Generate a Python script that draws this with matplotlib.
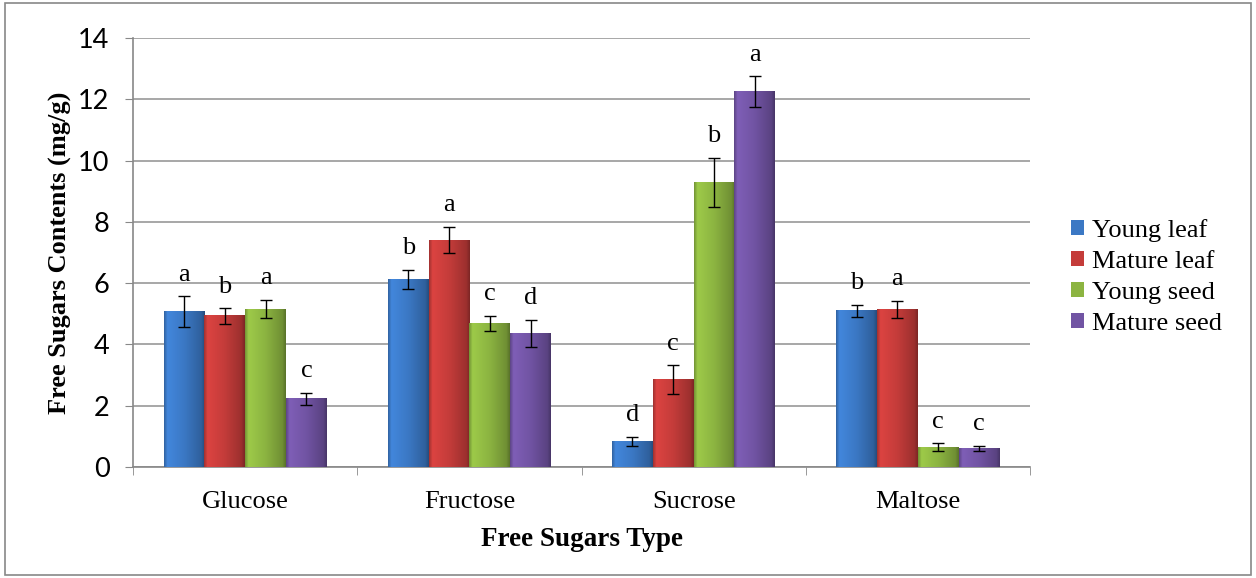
import numpy as np
import matplotlib
matplotlib.use('Agg')
import matplotlib.pyplot as plt
from matplotlib.patches import Rectangle
from matplotlib.colors import to_rgb

plt.rcParams['font.family'] = ['Liberation Serif', 'DejaVu Serif']

categories = ['Glucose', 'Fructose', 'Sucrose', 'Maltose']
series = ['Young leaf', 'Mature leaf', 'Young seed', 'Mature seed']
values = [
    [5.07, 6.13, 0.83, 5.10],   # Young leaf
    [4.93, 7.41, 2.86, 5.15],   # Mature leaf
    [5.15, 4.69, 9.29, 0.65],   # Young seed
    [2.23, 4.36, 12.25, 0.60],  # Mature seed
]
errors = [
    [0.50, 0.31, 0.15, 0.20],
    [0.25, 0.43, 0.46, 0.28],
    [0.30, 0.25, 0.80, 0.12],
    [0.20, 0.45, 0.50, 0.08],
]
letters = [
    ['a', 'b', 'd', 'b'],
    ['b', 'a', 'c', 'a'],
    ['a', 'c', 'b', 'c'],
    ['c', 'd', 'a', 'c'],
]
colors = ['#3B78C4', '#C43C3A', '#8CB441', '#7154A3']

fig = plt.figure(figsize=(12.56, 5.78), dpi=100)
ax = fig.add_axes([0.106, 0.192, 0.714, 0.742])


def shade(c):
    # horizontal light-to-dark gradient, a rough stand-in for the bevelled bars
    c = np.array(to_rgb(c))
    t = np.linspace(0, 1, 40)
    f = np.interp(t, [0, 0.08, 0.5, 0.92, 1], [0.85, 1.12, 1.0, 0.8, 0.65])
    g = np.clip(c[None, :] * f[:, None], 0, 1)
    return g[None, :, :]


x = np.arange(len(categories))
w = 0.182
for i, s in enumerate(series):
    pos = x + (i - 1.5) * w
    bars = ax.bar(pos, values[i], w, color=colors[i], edgecolor='none',
                  label=s, zorder=3)
    for b in bars:
        ax.imshow(shade(colors[i]), extent=[b.get_x(), b.get_x() + b.get_width(), 0, b.get_height()],
                  aspect='auto', zorder=3.2, interpolation='bilinear')
    ax.errorbar(pos, values[i], yerr=errors[i], fmt='none', ecolor='black',
                elinewidth=1.0, capsize=4.5, capthick=1.0, zorder=4)
    for j in range(len(categories)):
        ax.text(pos[j], values[i][j] + errors[i][j] + 0.35, letters[i][j],
                ha='center', va='bottom', fontsize=19)

ax.set_xlim(-0.5, len(categories) - 0.5)
ax.set_ylim(0, 14)
ax.set_yticks(np.arange(0, 15, 2))
ax.set_yticklabels([str(v) for v in range(0, 15, 2)], fontfamily=['Lato', 'DejaVu Sans'], fontsize=19.5)
ax.set_xticks(x)
ax.set_xticklabels(categories)
ax.set_xticks(np.arange(-0.5, len(categories)), minor=True)
ax.tick_params(axis='x', which='major', length=0, labelsize=19, pad=17)
ax.tick_params(axis='x', which='minor', length=6, color='#888888')
ax.tick_params(axis='y', length=6, color='#888888', pad=11)
ax.yaxis.grid(True, color='#A0A0A0', linewidth=1.3, zorder=0)
ax.set_axisbelow(True)
for sp in ['top', 'right']:
    ax.spines[sp].set_visible(False)
for sp in ['left', 'bottom']:
    ax.spines[sp].set_color('#888888')
    ax.spines[sp].set_linewidth(1.2)

ax.set_ylabel('Free Sugars Contents (mg/g)', fontsize=19, fontweight='bold')
ax.yaxis.set_label_coords(-0.068, 0.5)
ax.set_xlabel('Free Sugars Type', fontsize=19.5, fontweight='bold', labelpad=10)

leg = ax.legend(loc='center left', bbox_to_anchor=(0.834, 0.521), bbox_transform=fig.transFigure,
                frameon=False, fontsize=19, handlelength=0.5, handleheight=0.5,
                handletextpad=0.3, labelspacing=0.35)

fig.patches.append(Rectangle((0.004, 0.005), 0.992, 0.99, transform=fig.transFigure,
                             fill=False, edgecolor='#888888', linewidth=1.2))

fig.savefig('out.png', dpi=100)
